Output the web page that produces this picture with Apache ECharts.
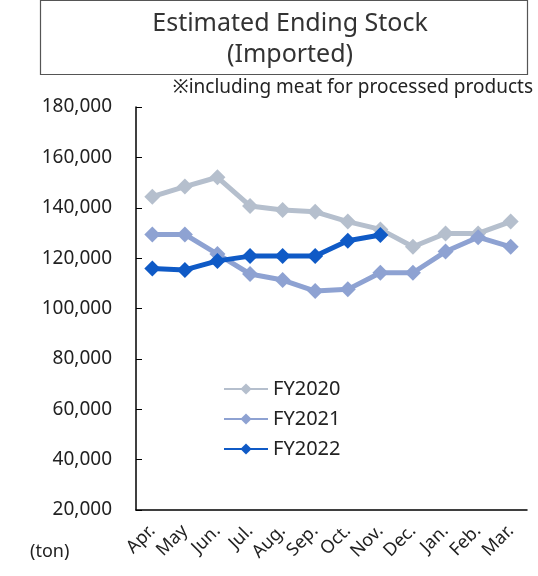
<!DOCTYPE html>
<html><head><meta charset="utf-8">
<script src="https://cdn.jsdelivr.net/npm/echarts@6/dist/echarts.min.js"></script>
<style>html,body{margin:0;padding:0;background:#fff}#c{width:538px;height:576px}</style>
</head><body><div id="c"></div>
<script>
const categories = ['Apr.','May','Jun.','Jul.','Aug.','Sep.','Oct.','Nov.','Dec.','Jan.','Feb.','Mar.'];
const fy2020 = [144400,148400,152100,140700,139100,138400,134500,131400,124500,129800,129800,134500];
const fy2021 = [129400,129400,121600,113700,111300,106900,107600,114200,114200,122600,128300,124500];
const fy2022 = [115900,115300,118900,120800,120800,120800,126900,129200];
const seriesNames = ['FY2020','FY2021','FY2022'];
const colors = ['#B5BFCD','#8EA2D2','#0F5AC6'];
const font = 'Noto Sans';

const chart = echarts.init(document.getElementById('c'), null, {renderer:'canvas'});
function mk(name, data, color){
  return {name, type:'line', data, symbol:'diamond', symbolSize:16,
    lineStyle:{width:5,color}, itemStyle:{color}, z: 2};
}
chart.setOption({
  animation:false,
  textStyle:{fontFamily:font},
  title:{text:'Estimated Ending Stock\n(Imported)', left:285, top:3, textAlign:'center',
    textStyle:{fontFamily:font,fontSize:25,fontWeight:'normal',color:'#333',lineHeight:31}},
  graphic:[
    {type:'rect', shape:{x:40.5,y:0.5,width:487,height:74}, style:{fill:'none',stroke:'#555',lineWidth:1.2}, z:-1},
    {type:'text', right:5, top:78, style:{text:'※including meat for processed products', font:'19px "Noto Sans"', fill:'#222'}},
    {type:'text', left:30, top:543, style:{text:'(ton)', font:'18px "Noto Sans"', fill:'#222'}}
  ],
  legend:{orient:'vertical', left:218, top:374, itemWidth:44, itemHeight:14, itemGap:10,
    data:seriesNames, textStyle:{fontFamily:font,fontSize:20,color:'#222'}},
  grid:{left:136, right:11, top:107, bottom:66},
  xAxis:{type:'category', data:categories, boundaryGap:true,
    axisLine:{lineStyle:{color:'#000',width:1.5}},
    axisTick:{inside:true,length:7,lineStyle:{color:'#000'}},
    axisLabel:{rotate:45, fontFamily:font, fontSize:18, color:'#222', margin:18, interval:0}},
  yAxis:{type:'value', min:20000, max:180000, interval:20000,
    splitLine:{show:false},
    axisLine:{show:true,lineStyle:{color:'#000',width:1.5}},
    axisTick:{show:true,inside:true,length:6,lineStyle:{color:'#000'}},
    axisLabel:{fontFamily:font,fontSize:19,color:'#222',margin:24,
      formatter:v=>v.toLocaleString('en-US')}},
  series:[mk(seriesNames[0],fy2020,colors[0]), mk(seriesNames[1],fy2021,colors[1]), mk(seriesNames[2],fy2022,colors[2])]
});
</script></body></html>
